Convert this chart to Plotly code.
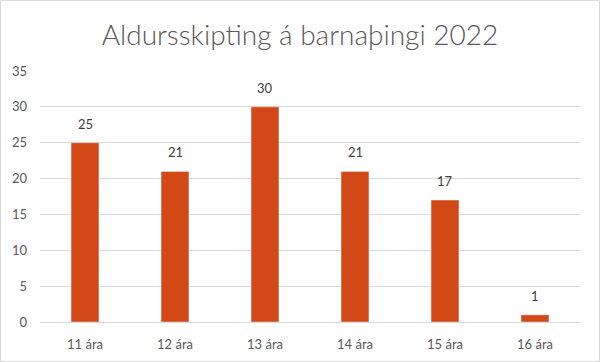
import plotly.graph_objects as go

categories = ["11 ára", "12 ára", "13 ára", "14 ára", "15 ára", "16 ára"]
values = [25, 21, 30, 21, 17, 1]
y_ticks = [0, 5, 10, 15, 20, 25, 30, 35]

W, H = 600, 362
ml, mr, mt, mb = 40, 20, 71, 40
pw, ph = W - ml - mr, H - mt - mb

fig = go.Figure(go.Bar(
    x=categories, y=values,
    marker_color="#D34817",
    width=0.31,
    hoverinfo="x+y",
))

for c, v in zip(categories, values):
    fig.add_annotation(x=c, y=v, text=str(v), showarrow=False,
                       yanchor="bottom", yshift=9,
                       font=dict(size=13, color="#404040", family="Lato"))

fig.update_layout(
    width=W, height=H,
    margin=dict(l=ml, r=mr, t=mt, b=mb),
    paper_bgcolor="white", plot_bgcolor="white",
    font=dict(family="Lato", color="#595959"),
    showlegend=False,
    title=dict(text="Aldursskipting á barnaþingi 2022", x=0.5, xanchor="center",
               y=1 - 35 / H, yanchor="middle",
               font=dict(size=28, color="#595959", family="Lato Light, Lato")),
    xaxis=dict(showgrid=False, showline=True, linecolor="#D9D9D9", linewidth=1,
               ticks="", tickfont=dict(size=13, color="#595959"), ticklabelstandoff=10,
               automargin=False),
    yaxis=dict(range=[0, 35], tickvals=y_ticks, showgrid=True, gridcolor="#D9D9D9",
               gridwidth=1, zeroline=False, showline=False, ticks="",
               tickfont=dict(size=13, color="#595959"), ticklabelstandoff=12,
               automargin=False),
)

fig.add_shape(type="rect", xref="paper", yref="paper",
              x0=(0.5 - ml) / pw, x1=(W - 0.5 - ml) / pw,
              y0=-(mb - 0.5) / ph, y1=1 + (mt - 0.5) / ph,
              line=dict(color="#D9D9D9", width=1), layer="below")

fig.write_html("out.html", config={"displayModeBar": False},
               post_script="document.body.style.margin='0';document.body.style.overflow='hidden';")
